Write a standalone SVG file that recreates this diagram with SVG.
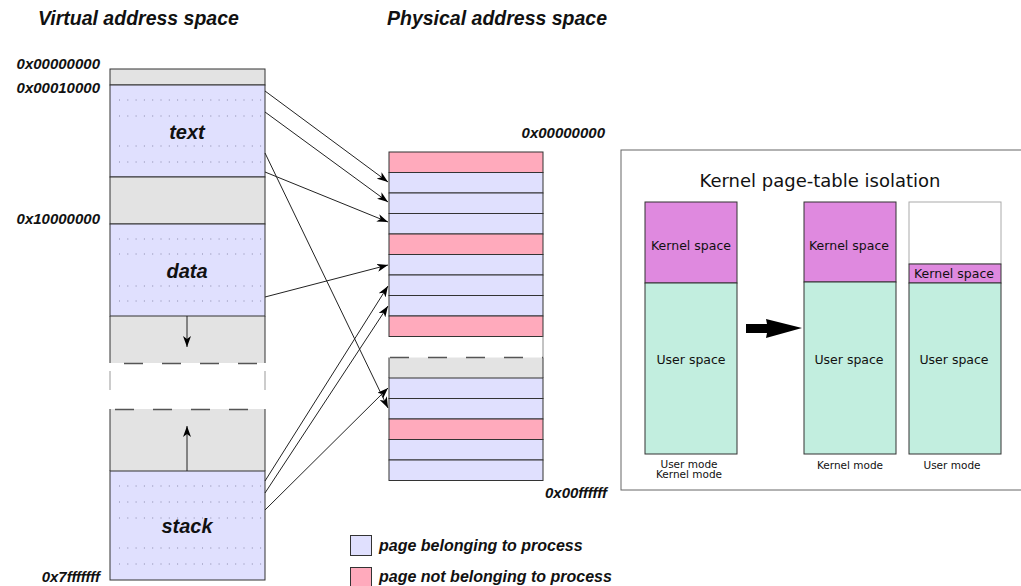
<svg xmlns="http://www.w3.org/2000/svg" width="1021" height="586" viewBox="0 0 1021 586">
<defs>
<marker id="ah" markerUnits="userSpaceOnUse" markerWidth="12" markerHeight="8" refX="11" refY="4" orient="auto">
<path d="M0,0 L11,4 L0,8 L3,4 z" fill="#000"/>
</marker>
<style>
.lbl{font-family:"Liberation Sans",Arial,sans-serif;font-weight:bold;font-style:italic;fill:#111}
.dv{font-family:"DejaVu Sans",sans-serif;fill:#111}
.blue{fill:#e0e0fe;stroke:#333;stroke-width:1}
.pink{fill:#ffaabc;stroke:#333;stroke-width:1}
.gray{fill:#e3e3e3;stroke:#333;stroke-width:1}
.edge{stroke:#333;stroke-width:1}
.dash{stroke:#555;stroke-width:1.5;stroke-dasharray:19,19}
.dots{stroke:#8888aa;stroke-width:1;stroke-dasharray:1,7.3}
.conn{stroke:#222;stroke-width:1;fill:none;marker-end:url(#ah)}
.purple{fill:#df89df;stroke:#333;stroke-width:1}
.green{fill:#c2eedf;stroke:#333;stroke-width:1}
</style>
</defs>
<rect width="1021" height="586" fill="#fff"/>

<text class="lbl" x="38" y="25" font-size="19.5">Virtual address space</text>
<text class="lbl" x="387" y="25" font-size="19.5">Physical address space</text>

<g id="virtual">
<rect x="110" y="316" width="155" height="47" fill="#e3e3e3"/>
<line class="edge" x1="110" y1="316" x2="110" y2="363"/>
<line class="edge" x1="265" y1="316" x2="265" y2="363"/>
<rect x="110" y="409" width="155" height="62" fill="#e3e3e3"/>
<line class="edge" x1="110" y1="409" x2="110" y2="471"/>
<line class="edge" x1="265" y1="409" x2="265" y2="471"/>
<line class="dash" x1="110" y1="363.5" x2="265" y2="363.5" stroke-dashoffset="-14"/>
<line class="dash" x1="110" y1="409.5" x2="265" y2="409.5" stroke-dashoffset="-5"/>
<line x1="110" y1="363" x2="110" y2="409" stroke="#999" stroke-width="1" stroke-dasharray="19,19" stroke-dashoffset="-8"/>
<line x1="265" y1="363" x2="265" y2="409" stroke="#999" stroke-width="1" stroke-dasharray="19,19" stroke-dashoffset="-8"/>
<rect class="gray" x="110" y="69" width="155" height="16"/>
<rect class="blue" x="110" y="85" width="155" height="92"/>
<rect class="gray" x="110" y="177" width="155" height="47"/>
<rect class="blue" x="110" y="224" width="155" height="92"/>
<rect class="blue" x="110" y="471" width="155" height="109"/>
<g class="dots">
<line x1="119" y1="100" x2="264" y2="100"/>
<line x1="119" y1="116" x2="264" y2="116"/>
<line x1="119" y1="146" x2="264" y2="146"/>
<line x1="119" y1="162" x2="264" y2="162"/>
<line x1="119" y1="239" x2="264" y2="239"/>
<line x1="119" y1="254" x2="264" y2="254"/>
<line x1="119" y1="286" x2="264" y2="286"/>
<line x1="119" y1="301" x2="264" y2="301"/>
<line x1="119" y1="486" x2="264" y2="486"/>
<line x1="119" y1="502" x2="264" y2="502"/>
<line x1="119" y1="518" x2="264" y2="518"/>
<line x1="119" y1="548" x2="264" y2="548"/>
<line x1="119" y1="564" x2="264" y2="564"/>
</g>
<text class="lbl" x="187" y="139" font-size="20" text-anchor="middle">text</text>
<text class="lbl" x="187" y="278" font-size="20" text-anchor="middle">data</text>
<text class="lbl" x="187" y="533" font-size="20" text-anchor="middle">stack</text>
<line x1="187" y1="316" x2="187" y2="347" stroke="#222" stroke-width="1" marker-end="url(#ah)"/>
<line x1="187" y1="471" x2="187" y2="426" stroke="#222" stroke-width="1" marker-end="url(#ah)"/>
<text class="lbl" x="100" y="69" font-size="15" text-anchor="end">0x00000000</text>
<text class="lbl" x="100" y="93" font-size="15" text-anchor="end">0x00010000</text>
<text class="lbl" x="100" y="224" font-size="15" text-anchor="end">0x10000000</text>
<text class="lbl" x="100" y="582" font-size="15" text-anchor="end">0x7fffffff</text>
</g>

<g id="physical">
<rect class="pink" x="389" y="152" width="154" height="20.5"/>
<rect class="blue" x="389" y="172.5" width="154" height="20.5"/>
<rect class="blue" x="389" y="193" width="154" height="20.5"/>
<rect class="blue" x="389" y="213.5" width="154" height="20.5"/>
<rect class="pink" x="389" y="234" width="154" height="20.5"/>
<rect class="blue" x="389" y="254.5" width="154" height="20.5"/>
<rect class="blue" x="389" y="275" width="154" height="20.5"/>
<rect class="blue" x="389" y="295.5" width="154" height="20.5"/>
<rect class="pink" x="389" y="316" width="154" height="20.5"/>
<line x1="543" y1="336.5" x2="543" y2="357.5" stroke="#888" stroke-width="1"/>
<rect x="389" y="357.5" width="154" height="20.5" fill="#e3e3e3"/>
<line class="edge" x1="389" y1="357.5" x2="389" y2="378"/>
<line class="edge" x1="543" y1="357.5" x2="543" y2="378"/>
<line class="dash" x1="390" y1="357.5" x2="543" y2="357.5"/>
<rect class="blue" x="389" y="378" width="154" height="20.5"/>
<rect class="blue" x="389" y="398.5" width="154" height="20.5"/>
<rect class="pink" x="389" y="419" width="154" height="20.5"/>
<rect class="blue" x="389" y="439.5" width="154" height="20.5"/>
<rect class="blue" x="389" y="460" width="154" height="20.5"/>
<text class="lbl" x="605" y="138" font-size="15" text-anchor="end">0x00000000</text>
<text class="lbl" x="607" y="498" font-size="15" text-anchor="end">0x00ffffff</text>
</g>

<g id="connectors">
<line class="conn" x1="265" y1="91" x2="388" y2="182"/>
<line class="conn" x1="265" y1="112" x2="388" y2="202"/>
<line class="conn" x1="265" y1="172" x2="388" y2="222"/>
<line class="conn" x1="265" y1="153" x2="388" y2="408"/>
<line class="conn" x1="265" y1="297" x2="388" y2="265"/>
<line class="conn" x1="265" y1="481" x2="388" y2="286"/>
<line class="conn" x1="265" y1="493" x2="388" y2="306"/>
<line class="conn" x1="265" y1="510" x2="388" y2="388"/>
</g>

<g id="kpti">
<rect x="621" y="150" width="410" height="340" fill="#fff" stroke="#666" stroke-width="1"/>
<text class="dv" x="820" y="187" font-size="18" text-anchor="middle">Kernel page-table isolation</text>
<g id="bar-left">
<rect class="purple" x="645" y="202" width="92" height="81"/>
<rect class="green" x="645" y="283" width="92" height="171"/>
<text class="dv" x="691" y="250" font-size="12.5" text-anchor="middle">Kernel space</text>
<text class="dv" x="691" y="364" font-size="12.5" text-anchor="middle">User space</text>
<text class="dv" x="689" y="468" font-size="10.5" text-anchor="middle">User mode</text>
<text class="dv" x="689" y="478" font-size="10.5" text-anchor="middle">Kernel mode</text>
</g>
<polygon points="746,324 767,324 766,319 802,328 766,338 767,333 746,333" fill="#000"/>
<g id="bar-mid">
<rect class="purple" x="804" y="202" width="92" height="80" stroke="#999"/>
<rect class="green" x="804" y="282" width="92" height="172"/>
<text class="dv" x="849" y="250" font-size="12.5" text-anchor="middle">Kernel space</text>
<text class="dv" x="849" y="364" font-size="12.5" text-anchor="middle">User space</text>
<text class="dv" x="850" y="469" font-size="10.5" text-anchor="middle">Kernel mode</text>
</g>
<g id="bar-right">
<rect x="909" y="202" width="92" height="62" fill="#fff" stroke="#aaa"/>
<rect class="purple" x="909" y="264" width="92" height="19" stroke="#aaa"/>
<rect class="green" x="909" y="283" width="92" height="171"/>
<text class="dv" x="954" y="278" font-size="12.5" text-anchor="middle">Kernel space</text>
<text class="dv" x="954" y="364" font-size="12.5" text-anchor="middle">User space</text>
<text class="dv" x="952" y="469" font-size="10.5" text-anchor="middle">User mode</text>
</g>
</g>

<g id="legend">
<rect class="blue" x="350.5" y="535.5" width="21" height="20" stroke="#555"/>
<text class="lbl" x="379" y="551" font-size="16">page belonging to process</text>
<rect class="pink" x="350.5" y="567.5" width="21" height="20" stroke="#555"/>
<text class="lbl" x="379" y="582" font-size="16">page not belonging to process</text>
</g>
</svg>
